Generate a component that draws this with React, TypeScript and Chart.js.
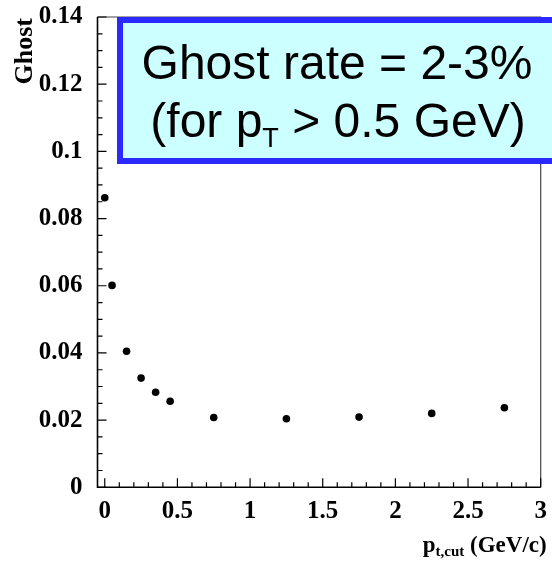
import React, { useEffect, useRef } from "react";
import { Chart, registerables } from "chart.js";

Chart.register(...registerables);

// ---- data ----
const ptCut = [0, 0.05, 0.15, 0.25, 0.35, 0.45, 0.75, 1.25, 1.75, 2.25, 2.75];
const ghostRate = [0.0862, 0.0601, 0.0405, 0.0325, 0.0283, 0.0256, 0.0208, 0.0204, 0.0209, 0.022, 0.0237];

const xTickValues = [0, 0.5, 1, 1.5, 2, 2.5, 3];
const xTickLabels = ["0", "0.5", "1", "1.5", "2", "2.5", "3"];
const yTickValues = [0, 0.02, 0.04, 0.06, 0.08, 0.1, 0.12, 0.14];
const yTickLabels = ["0", "0.02", "0.04", "0.06", "0.08", "0.1", "0.12", "0.14"];
const xMinorStep = 0.1;
const yMinorStep = 0.005;

const yTitle = "Ghost";
const xTitleMain = "p";
const xTitleSub = "t,cut";
const xTitleRest = " (GeV/c)";

const boxLine1 = "Ghost rate = 2-3%";
const boxLine2Pre = "(for p";
const boxLine2Sub = "T";
const boxLine2Post = " > 0.5 GeV)";

const SERIF = '"Liberation Serif", "Times New Roman", serif';
const SANS = '"Liberation Sans", Arial, sans-serif';

const decorPlugin = {
  id: "decor",
  beforeDatasetsDraw(chart: any) {
    const ctx = chart.ctx;
    const { left, right, top, bottom } = chart.chartArea;
    const xs = chart.scales.x;
    const ys = chart.scales.y;
    ctx.save();
    // frame top/right
    ctx.strokeStyle = "#444";
    ctx.lineWidth = 1.2;
    ctx.beginPath();
    ctx.moveTo(left, top);
    ctx.lineTo(right, top);
    ctx.lineTo(right, bottom);
    ctx.stroke();
    // axes
    ctx.strokeStyle = "#000";
    ctx.lineWidth = 1.6;
    ctx.beginPath();
    ctx.moveTo(left, top);
    ctx.lineTo(left, bottom);
    ctx.lineTo(right, bottom);
    ctx.stroke();
    // ticks
    ctx.lineWidth = 1.2;
    ctx.beginPath();
    const nx = Math.round(xs.max / xMinorStep);
    for (let i = 0; i <= nx; i++) {
      const v = i * xMinorStep;
      const px = xs.getPixelForValue(v);
      const major = i % 5 === 0;
      ctx.moveTo(px, bottom);
      ctx.lineTo(px, bottom - (major ? 9 : 5));
    }
    const ny = Math.round((ys.max - ys.min) / yMinorStep);
    for (let i = 0; i <= ny; i++) {
      const v = ys.min + i * yMinorStep;
      const py = ys.getPixelForValue(v);
      const major = i % 4 === 0;
      ctx.moveTo(left, py);
      ctx.lineTo(left + (major ? 9 : 5), py);
    }
    ctx.stroke();
    ctx.restore();
  },
  afterDraw(chart: any) {
    const ctx = chart.ctx;
    const { right } = chart.chartArea;
    ctx.save();
    ctx.fillStyle = "#000";
    // y title
    ctx.save();
    ctx.translate(25, 18);
    ctx.rotate(-Math.PI / 2);
    ctx.font = `bold 26px ${SERIF}`;
    ctx.textAlign = "right";
    ctx.textBaseline = "middle";
    ctx.fillText(yTitle, 0, 0);
    ctx.restore();

    // x title
    ctx.textBaseline = "alphabetic";
    ctx.textAlign = "left";
    const mainFont = `bold 23px ${SERIF}`;
    const subFont = `bold 15px ${SERIF}`;
    ctx.font = mainFont;
    const wMain = ctx.measureText(xTitleMain).width;
    const wRest = ctx.measureText(xTitleRest).width;
    ctx.font = subFont;
    const wSub = ctx.measureText(xTitleSub).width;
    const xEnd = right + 6;
    let x = xEnd - (wMain + wSub + wRest);
    ctx.font = mainFont;
    ctx.fillText(xTitleMain, x, 552);
    x += wMain;
    ctx.font = subFont;
    ctx.fillText(xTitleSub, x, 556);
    x += wSub;
    ctx.font = mainFont;
    ctx.fillText(xTitleRest, x, 552);

    // annotation box
    const bx = 117, by = 17, bw = 450, bh = 147, bwid = 6;
    ctx.fillStyle = "#2a2aff";
    ctx.fillRect(bx, by, bw, bh);
    ctx.fillStyle = "#ccffff";
    ctx.fillRect(bx + bwid, by + bwid, bw - 2 * bwid, bh - 2 * bwid);

    ctx.fillStyle = "#000";
    const big = `48px ${SANS}`;
    const small = `27px ${SANS}`;
    ctx.font = big;
    ctx.textAlign = "center";
    ctx.fillText(boxLine1, 337, 79);
    ctx.textAlign = "left";
    const w1 = ctx.measureText(boxLine2Pre).width;
    const w3 = ctx.measureText(boxLine2Post).width;
    ctx.font = small;
    const w2 = ctx.measureText(boxLine2Sub).width;
    let lx = 338 - (w1 + w2 + w3) / 2;
    ctx.font = big;
    ctx.fillText(boxLine2Pre, lx, 137);
    lx += w1;
    ctx.font = small;
    ctx.fillText(boxLine2Sub, lx, 147);
    lx += w2;
    ctx.font = big;
    ctx.fillText(boxLine2Post, lx, 137);
    ctx.restore();
  },
};

export default function App() {
  const ref = useRef<HTMLCanvasElement | null>(null);
  useEffect(() => {
    if (!ref.current) return;
    const tickFont = { family: SERIF, size: 25, weight: "bold" as const };
    const chart = new Chart(ref.current, {
      type: "scatter",
      data: {
        datasets: [
          {
            data: ptCut.map((x, i) => ({ x, y: ghostRate[i] })),
            pointRadius: 3.8,
            pointBackgroundColor: "#000",
            pointBorderWidth: 0,
            showLine: false,
          },
        ],
      },
      options: {
        responsive: false,
        devicePixelRatio: 1,
        animation: false,
        layout: { padding: { top: 17, right: 11.3, left: 0, bottom: 0 } },
        plugins: { legend: { display: false }, tooltip: { enabled: false } },
        scales: {
          x: {
            type: "linear",
            min: -0.05,
            max: 3,
            grid: { display: false, drawTicks: false },
            border: { display: false },
            afterBuildTicks: (s: any) => {
              s.ticks = xTickValues.map((value) => ({ value }));
            },
            afterFit: (s: any) => {
              s.height = 562 - 487.3;
              s.paddingLeft = 0;
              s.paddingRight = 0;
              s.paddingTop = 0;
              s.paddingBottom = 0;
            },
            ticks: {
              autoSkip: false,
              maxRotation: 0,
              minRotation: 0,
              padding: 9,
              color: "#000",
              font: tickFont,
              callback: (_v: any, i: number) => xTickLabels[i],
            },
          },
          y: {
            type: "linear",
            min: 0,
            max: 0.14,
            grid: { display: false, drawTicks: false },
            border: { display: false },
            afterBuildTicks: (s: any) => {
              s.ticks = yTickValues.map((value) => ({ value }));
            },
            afterFit: (s: any) => {
              s.width = 97.5;
              s.paddingLeft = 0;
              s.paddingRight = 0;
              s.paddingTop = 0;
              s.paddingBottom = 0;
            },
            ticks: {
              autoSkip: false,
              padding: 15,
              color: "#000",
              font: tickFont,
              callback: (_v: any, i: number) => yTickLabels[i],
            },
          },
        },
      },
      plugins: [decorPlugin],
    });
    return () => chart.destroy();
  }, []);
  return (
    <div style={{ position: "absolute", left: 0, top: 0, width: 552, height: 562, background: "#fff" }}>
      <canvas ref={ref} width={552} height={562} style={{ width: 552, height: 562, display: "block" }} />
    </div>
  );
}
